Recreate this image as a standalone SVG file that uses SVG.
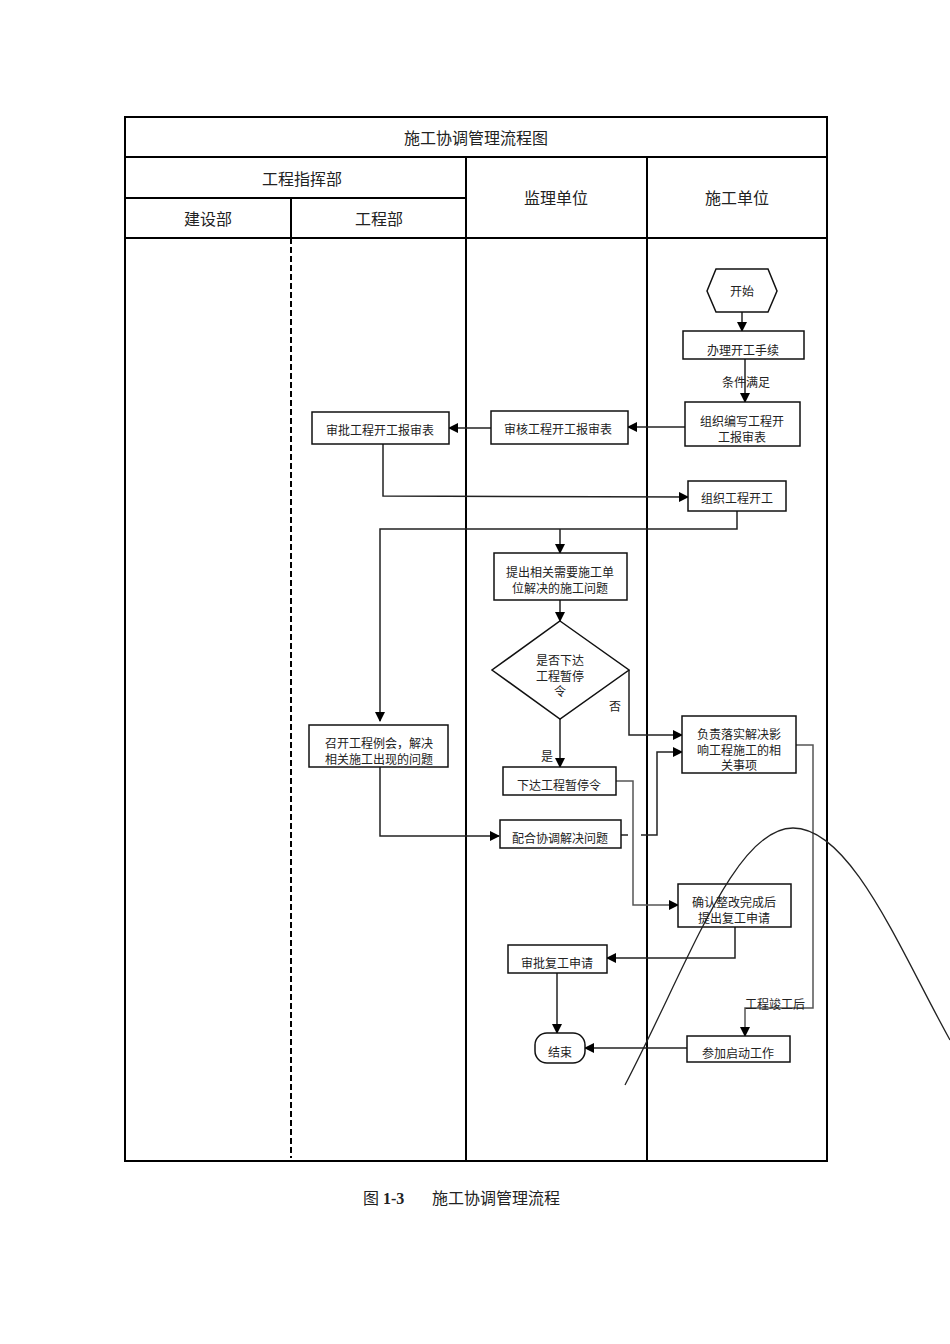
<svg xmlns="http://www.w3.org/2000/svg" width="950" height="1344" viewBox="0 0 950 1344">
<style>
.t{font-family:"Liberation Serif","Noto Sans CJK SC",serif;fill:#222;text-anchor:middle}
.h{font-size:16px}
.n{font-size:12px}
.box{fill:#fff;stroke:#111;stroke-width:1.5}
.frame{fill:none;stroke:#000;stroke-width:2}
.c{fill:none;stroke:#222;stroke-width:1.5}
.g{fill:none;stroke:#555;stroke-width:1.5}
</style>
<defs>
<marker id="a" markerWidth="10" markerHeight="10" refX="9" refY="5" orient="auto" markerUnits="userSpaceOnUse">
<path d="M0,0 L10,5 L0,10 Z" fill="#000"/>
</marker>
</defs>
<rect width="950" height="1344" fill="#fff"/>
<g id="frame">
<rect class="frame" x="125" y="117" width="702" height="1044"/>
<line class="frame" x1="125" y1="157" x2="827" y2="157"/>
<line class="frame" x1="125" y1="198" x2="466" y2="198"/>
<line class="frame" x1="125" y1="238" x2="827" y2="238"/>
<line class="frame" x1="466" y1="157" x2="466" y2="1161"/>
<line class="frame" x1="647" y1="157" x2="647" y2="1161"/>
<line class="frame" x1="291" y1="198" x2="291" y2="238"/>
<line x1="291" y1="238" x2="291" y2="1158" stroke="#000" stroke-width="2" stroke-dasharray="6,3"/>
<text class="t h" x="476" y="144">施工协调管理流程图</text>
<text class="t h" x="302" y="185">工程指挥部</text>
<text class="t h" x="208" y="225">建设部</text>
<text class="t h" x="379" y="225">工程部</text>
<text class="t h" x="556" y="204">监理单位</text>
<text class="t h" x="737" y="204">施工单位</text>
</g>
<g id="connectors">
<line class="c" x1="742" y1="312" x2="742" y2="331" marker-end="url(#a)"/>
<line class="c" x1="745" y1="359" x2="745" y2="402" marker-end="url(#a)"/>
<line class="c" x1="685" y1="427" x2="628" y2="427" marker-end="url(#a)"/>
<line class="c" x1="491" y1="428" x2="449" y2="428" marker-end="url(#a)"/>
<polyline class="c" points="383,444 383,496 688,497" marker-end="url(#a)"/>
<polyline class="c" points="737,511 737,529 380,529 380,721" marker-end="url(#a)"/>
<line class="c" x1="560" y1="529" x2="560" y2="553" marker-end="url(#a)"/>
<line class="c" x1="560" y1="600" x2="560" y2="621" marker-end="url(#a)"/>
<polyline class="c" points="629,670 629,735 682,735" marker-end="url(#a)"/>
<line class="c" x1="560" y1="719" x2="560" y2="767" marker-end="url(#a)"/>
<line class="c" x1="621" y1="835" x2="628" y2="835"/>
<polyline class="c" points="641,835 657,835 657,752 682,752" marker-end="url(#a)"/>
<polyline class="g" points="616,781 633,781 633,905 678,905" marker-end="url(#a)"/>
<polyline class="c" points="380,767 380,836 499,836" marker-end="url(#a)"/>
<polyline class="c" points="735,927 735,958 607,958" marker-end="url(#a)"/>
<line class="c" x1="557" y1="973" x2="557" y2="1033" marker-end="url(#a)"/>
<line class="c" x1="687" y1="1048" x2="585" y2="1048" marker-end="url(#a)"/>
<polyline class="g" points="796,745 813,745 813,1008 745,1008 745,1036" marker-end="url(#a)"/>
<text class="t n" x="746" y="387">条件满足</text>
<text class="t n" x="615" y="711">否</text>
<text class="t n" x="547" y="761">是</text>
<text class="t n" x="775" y="1009">工程竣工后</text>
</g>
<g id="n-start">
<polygon class="box" points="707,291 716,269 768,269 777,291 768,312 716,312"/>
<text class="t n" x="742" y="296">开始</text>
</g>
<g id="n-banli">
<rect class="box" x="683" y="331" width="121" height="28"/>
<text class="t n" x="743" y="355">办理开工手续</text>
</g>
<g id="n-bianxie">
<rect class="box" x="685" y="402" width="115" height="44"/>
<text class="t n" x="742" y="426">组织编写工程开</text>
<text class="t n" x="742" y="442">工报审表</text>
</g>
<g id="n-shenhe">
<rect class="box" x="491" y="411" width="137" height="33"/>
<text class="t n" x="558" y="434">审核工程开工报审表</text>
</g>
<g id="n-shenpi">
<rect class="box" x="312" y="412" width="137" height="32"/>
<text class="t n" x="380" y="435">审批工程开工报审表</text>
</g>
<g id="n-kaigong">
<rect class="box" x="688" y="481" width="98" height="30"/>
<text class="t n" x="737" y="503">组织工程开工</text>
</g>
<g id="n-tichu">
<rect class="box" x="494" y="553" width="133" height="47"/>
<text class="t n" x="560" y="577">提出相关需要施工单</text>
<text class="t n" x="560" y="593">位解决的施工问题</text>
</g>
<g id="n-decision">
<polygon class="box" points="560,621 629,670 560,719 492,670"/>
<text class="t n" x="560" y="665">是否下达</text>
<text class="t n" x="560" y="681">工程暂停</text>
<text class="t n" x="560" y="696">令</text>
</g>
<g id="n-fuze">
<rect class="box" x="682" y="716" width="114" height="57"/>
<text class="t n" x="739" y="739">负责落实解决影</text>
<text class="t n" x="739" y="755">响工程施工的相</text>
<text class="t n" x="739" y="770">关事项</text>
</g>
<g id="n-zhaokai">
<rect class="box" x="309" y="725" width="139" height="42"/>
<text class="t n" x="379" y="748">召开工程例会，解决</text>
<text class="t n" x="379" y="764">相关施工出现的问题</text>
</g>
<g id="n-xiada">
<rect class="box" x="503" y="767" width="113" height="28"/>
<text class="t n" x="559" y="790">下达工程暂停令</text>
</g>
<g id="n-peihe">
<rect class="box" x="500" y="820" width="121" height="28"/>
<text class="t n" x="560" y="843">配合协调解决问题</text>
</g>
<g id="n-queren">
<rect class="box" x="678" y="884" width="113" height="43"/>
<text class="t n" x="734" y="907">确认整改完成后</text>
<text class="t n" x="734" y="923">提出复工申请</text>
</g>
<g id="n-fugong">
<rect class="box" x="508" y="945" width="99" height="28"/>
<text class="t n" x="557" y="968">审批复工申请</text>
</g>
<g id="n-end">
<rect class="box" x="535" y="1033" width="50" height="30" rx="12"/>
<text class="t n" x="560" y="1057">结束</text>
</g>
<g id="n-canjia">
<rect class="box" x="687" y="1036" width="103" height="26"/>
<text class="t n" x="738" y="1058">参加启动工作</text>
</g>
<g id="curve">
<path d="M625,1085 C690,960 735,828 793,828 C851,828 900,950 950,1040" fill="none" stroke="#222" stroke-width="1.3"/>
</g>
<g id="caption">
<text x="363" y="1204" font-family="Liberation Serif,Noto Sans CJK SC,serif" font-size="16" fill="#222">图 <tspan font-weight="bold">1-3</tspan></text>
<text x="432" y="1204" font-family="Liberation Serif,Noto Sans CJK SC,serif" font-size="16" fill="#222">施工协调管理流程</text>
</g>
</svg>
